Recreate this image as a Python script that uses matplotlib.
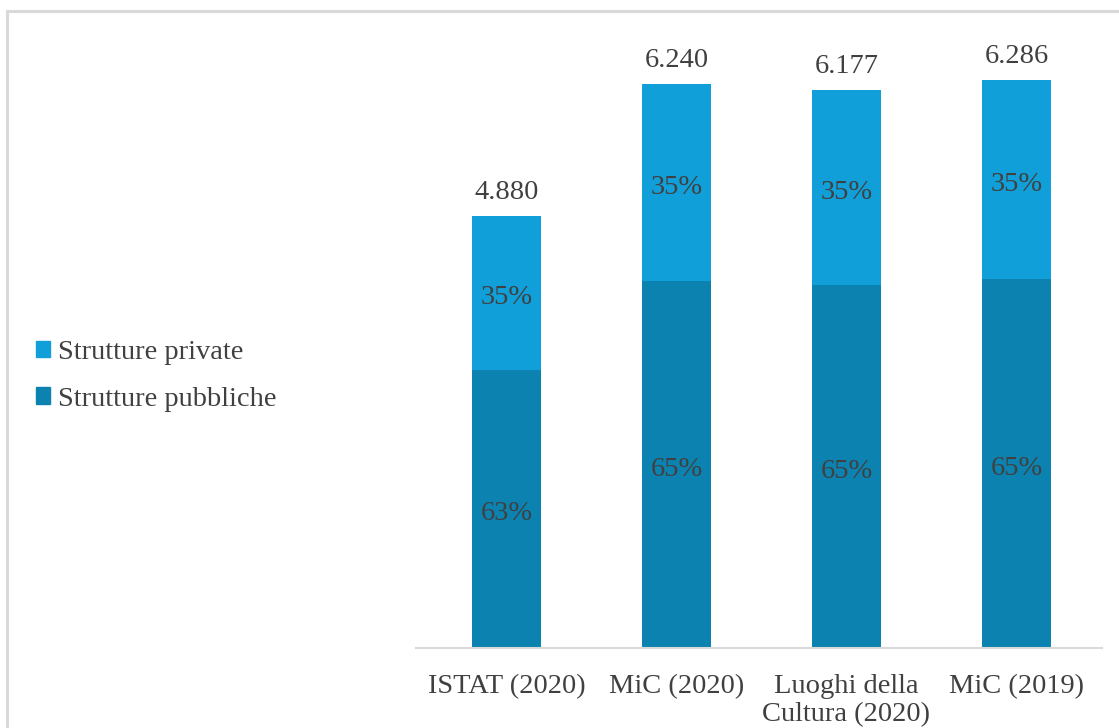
import matplotlib
matplotlib.use("Agg")
import matplotlib.pyplot as plt
from matplotlib.patches import Patch
from matplotlib.lines import Line2D

categories = ["ISTAT (2020)", "MiC (2020)", "Luoghi della\nCultura (2020)", "MiC (2019)"]
totals = [4880, 6240, 6177, 6286]
public_pct = [63, 65, 65, 65]
private_pct = [35, 35, 35, 35]
public_vals = [3074, 4056, 4015, 4086]
private_vals = [1708, 2184, 2162, 2200]

col_private = "#109FD8"
col_public = "#0B82B0"
txt_col = "#404040"
grid_col = "#D9D9D9"

plt.rcParams['font.family'] = ['Liberation Serif', 'DejaVu Serif']

W, H = 1119, 728
fig = plt.figure(figsize=(W / 100, H / 100), dpi=100)

# outer border
fig.add_artist(Line2D([6.5 / W, 6.5 / W], [0, 1 - 10.5 / H], transform=fig.transFigure,
                      color=grid_col, lw=2.2))
fig.add_artist(Line2D([6.5 / W, 1], [1 - 10.5 / H, 1 - 10.5 / H], transform=fig.transFigure,
                      color=grid_col, lw=2.2))

ax_l, ax_r, ax_b, ax_t = 416, 1102, 648, 15
ax = fig.add_axes([ax_l / W, 1 - ax_b / H, (ax_r - ax_l) / W, (ax_b - ax_t) / H])

x = list(range(len(categories)))
bw = 0.406
ax.bar(x, public_vals, width=bw, color=col_public, edgecolor='none', label="Strutture pubbliche")
ax.bar(x, private_vals, width=bw, bottom=public_vals, color=col_private, edgecolor='none',
       label="Strutture private")

fs = 20.5
for i in x:
    ax.annotate(f"{public_pct[i]}%", xy=(i, public_vals[i] / 2), xytext=(0, -3.5),
                textcoords='offset points', ha='center', va='center',
                color=txt_col, fontsize=fs)
    ax.annotate(f"{private_pct[i]}%", xy=(i, public_vals[i] + private_vals[i] / 2),
                xytext=(0, -3.5), textcoords='offset points', ha='center', va='center',
                color=txt_col, fontsize=fs)
    top = public_vals[i] + private_vals[i]
    ax.annotate(f"{totals[i]:,}".replace(",", "."), xy=(i, top), xytext=(0, 16.5),
                textcoords='offset points', ha='center', va='center',
                color=txt_col, fontsize=fs)

ax.set_xlim(-0.532, 3.503)
ax.set_ylim(0, (ax_b - ax_t) / 0.0904)
ax.set_xticks(x)
ax.set_xticklabels(categories, fontsize=fs, color=txt_col, linespacing=1.2)
ax.tick_params(axis='x', length=0, pad=18.5)
ax.set_yticks([])
for s in ['top', 'right', 'left']:
    ax.spines[s].set_visible(False)
ax.spines['bottom'].set_color(grid_col)
ax.spines['bottom'].set_linewidth(1.5)

handles = [Patch(color=col_private), Patch(color=col_public)]
fig.legend(handles, ["Strutture private", "Strutture pubbliche"],
           loc='center left', bbox_to_anchor=(10 / W, 1 - 376 / H),
           frameon=False, fontsize=fs, labelcolor=txt_col,
           handlelength=0.5, handleheight=0.5, handletextpad=0.3, labelspacing=0.75)

fig.savefig("out.png", dpi=100)
